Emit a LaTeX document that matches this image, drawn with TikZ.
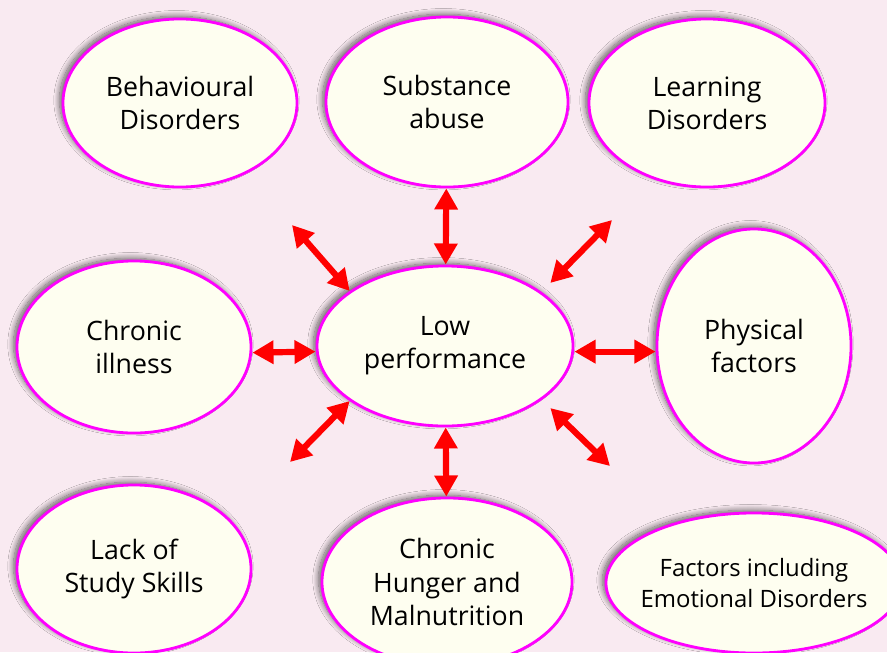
\documentclass[tikz,border=0pt]{standalone}
\usepackage{fontspec}
\setmainfont{Open Sans}
\usetikzlibrary{arrows.meta,shapes.geometric,shadows.blur}
\definecolor{bgpink}{RGB}{249,234,241}
\definecolor{blobfill}{RGB}{254,254,240}
\definecolor{blobline}{RGB}{255,0,255}

\begin{document}
\begin{tikzpicture}[x=0.025cm, y=-0.025cm,
  blob/.style={ellipse, draw=blobline, line width=2pt, fill=blobfill, align=center,
    inner sep=0pt, font=\fontsize{19}{23.5}\selectfont,
    blur shadow={shadow xshift=-2.5pt, shadow yshift=2pt, shadow blur radius=4pt,
      shadow blur steps=14, shadow opacity=60}},
  link/.style={draw=red, line width=4.4pt,
    {Triangle[length=15pt,width=16pt]}-{Triangle[length=15pt,width=16pt]}}]

\fill[bgpink] (0,0) rectangle (887,652);
\useasboundingbox (0,0) rectangle (887,652);

% top row
\node[blob, minimum width=5.85cm, minimum height=4.2cm] (behav) at (180,103) {Behavioural\\Disorders};
\node[blob, minimum width=6.05cm, minimum height=4.25cm] (subst) at (447,102) {Substance\\abuse};
\node[blob, minimum width=5.9cm, minimum height=4.2cm] (learn) at (707,103) {Learning\\Disorders};

% middle row
\node[blob, minimum width=5.85cm, minimum height=4.3cm] (illness) at (134,347) {Chronic\\illness};
\node[blob, minimum width=6.4cm, minimum height=4cm] (low) at (445,346) {Low\\performance};
\node[blob, minimum width=4.85cm, minimum height=5.85cm] (phys) at (754,346) {Physical\\factors};

% bottom row
\node[blob, minimum width=5.85cm, minimum height=4.2cm] (study) at (134,569) {Lack of\\Study Skills};
\node[blob, minimum width=6.25cm, minimum height=4.2cm] (hunger) at (447,582) {Chronic\\Hunger and\\Malnutrition};
\node[blob, minimum width=7.4cm, minimum height=3.5cm, inner xsep=-25pt,
  font=\fontsize{17}{22}\selectfont] (emot) at (754,583) {Factors including\\Emotional Disorders};

% arrows
\draw[link] (subst) -- (low);
\draw[link] (low) -- (hunger);
\draw[link] ([yshift=-4pt]illness.east) -- ([yshift=-4pt]low.west);
\draw[link] ([yshift=-4pt]low.east) -- ([yshift=-4pt]phys.west);

\coordinate (nw) at (292,225);
\coordinate (ne) at (612,220);
\coordinate (sw) at (290,462);
\coordinate (se) at (610,466);
\draw[link] (nw) -- (low.150);
\draw[link] (ne) -- ([shift={(10,-8)}]low.30);
\draw[link] (sw) -- (low.210);
\draw[link] (se) -- ([shift={(10,7)}]low.330);

\end{tikzpicture}
\end{document}
